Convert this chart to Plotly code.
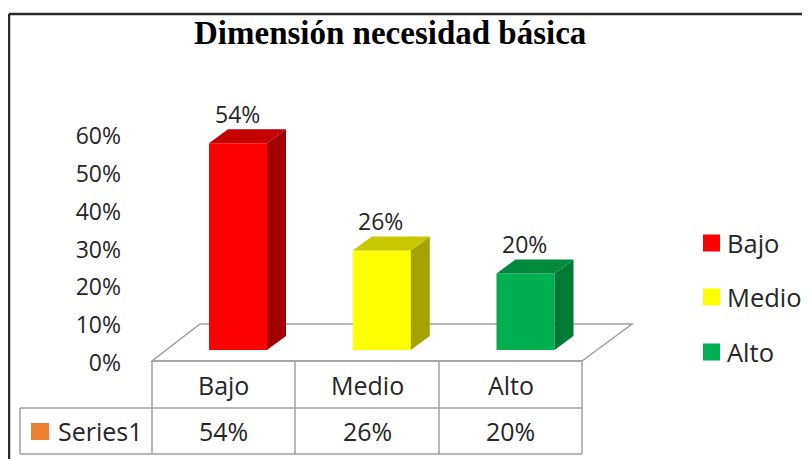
import plotly.graph_objects as go

# ---------------- data ----------------
categories = ["Bajo", "Medio", "Alto"]
values = [54, 26, 20]
y_ticks = [0, 10, 20, 30, 40, 50, 60]
series_name = "Series1"
title_text = "Dimensión necesidad básica"

front_colors = ["#FF0000", "#FFFF00", "#00B050"]
side_colors = ["#A00000", "#A3A300", "#007A36"]
top_colors = ["#C40000", "#C8C800", "#008A3E"]
series_key_color = "#ED7D31"

# ---------------- geometry helpers ----------------
W, H = 810, 459
OFF = 8            # page body margin offset (window px -> figure px)
FONT = "Open Sans"
TXT = "#262626"
GRID = "#A0A0A0"


def px(x):
    return (x - OFF) / W


def py(y):
    return 1 - (y - OFF) / H


# main axis mapping (bars): window pixel of category 0 centre / of 0 %
X0, DX = 238.0 - OFF, 143.75
Y0, KY = 350.0 - OFF, 3.83
# tick-label axis mapping
T0, KT = 363.0 - OFF, 3.78

bar_w = 58 / DX
dep_x = 19 / DX
dep_y = 14 / KY

xs = list(range(len(categories)))

fig = go.Figure()

fig.add_trace(go.Bar(
    x=xs, y=values, width=bar_w,
    marker=dict(color=front_colors, line=dict(width=0)),
    showlegend=False, hoverinfo="skip",
))
fig.add_trace(go.Scatter(
    x=[0], y=[0], yaxis="y2", mode="markers",
    marker=dict(opacity=0), showlegend=False, hoverinfo="skip",
))

shapes = []
annotations = []

# floor
shapes.append(dict(
    type="path", xref="paper", yref="paper", layer="below",
    path=f"M {px(152)},{py(361)} L {px(582)},{py(361)} L {px(632)},{py(324)} "
         f"L {px(200)},{py(324)} Z",
    line=dict(color=GRID, width=1.5), fillcolor="white",
))

# 3D faces of bars derived from data
for i, v in enumerate(values):
    xl = i - bar_w / 2
    xr = i + bar_w / 2
    shapes.append(dict(
        type="path", xref="x", yref="y", layer="above",
        path=f"M {xr},{0} L {xr + dep_x},{dep_y} L {xr + dep_x},{v + dep_y} L {xr},{v} Z",
        line=dict(width=0), fillcolor=side_colors[i],
    ))
    shapes.append(dict(
        type="path", xref="x", yref="y", layer="above",
        path=f"M {xl},{v} L {xr},{v} L {xr + dep_x},{v + dep_y} L {xl + dep_x},{v + dep_y} Z",
        line=dict(width=0), fillcolor=top_colors[i],
    ))
    annotations.append(dict(
        x=i, y=v + dep_y, xref="x", yref="y", text=f"{v}%",
        showarrow=False, yanchor="middle", yshift=15, xshift=-1,
        font=dict(family=FONT, size=23, color=TXT),
    ))

# data table lines
col_edges = [152, 295, 439, 582]
tbl_top, tbl_mid, tbl_bot, tbl_left = 361, 408, 454, 20


def line(x1, y1, x2, y2, color=GRID, width=1.5):
    shapes.append(dict(type="line", xref="paper", yref="paper",
                       x0=px(x1), y0=py(y1), x1=px(x2), y1=py(y2),
                       line=dict(color=color, width=width), layer="above"))


line(col_edges[0], tbl_top, col_edges[-1], tbl_top)
for xe in col_edges:
    line(xe, tbl_top, xe, tbl_bot)
line(tbl_left, tbl_mid, col_edges[-1], tbl_mid)
line(tbl_left, tbl_bot, col_edges[-1], tbl_bot)
line(tbl_left, tbl_mid, tbl_left, tbl_bot)

for i, (c, v) in enumerate(zip(categories, values)):
    cx = px((col_edges[i] + col_edges[i + 1]) / 2)
    annotations.append(dict(x=cx, y=py((tbl_top + tbl_mid) / 2), xref="paper", yref="paper",
                            text=c, showarrow=False, xanchor="center", yanchor="middle",
                            font=dict(family=FONT, size=25, color=TXT)))
    annotations.append(dict(x=cx, y=py((tbl_mid + tbl_bot) / 2), xref="paper", yref="paper",
                            text=f"{v}%", showarrow=False, xanchor="center", yanchor="middle",
                            font=dict(family=FONT, size=25, color=TXT)))

# series key in table
shapes.append(dict(type="rect", xref="paper", yref="paper",
                   x0=px(31), x1=px(49), y0=py(440), y1=py(423),
                   fillcolor=series_key_color, line=dict(width=0), layer="above"))
annotations.append(dict(x=px(56), y=py(431), xref="paper", yref="paper", text=series_name,
                        showarrow=False, xanchor="left", yanchor="middle",
                        font=dict(family=FONT, size=25, color=TXT)))

# manual legend
leg_y = [243, 297, 352]
for i, c in enumerate(categories):
    shapes.append(dict(type="rect", xref="paper", yref="paper",
                       x0=px(703), x1=px(720), y0=py(leg_y[i] + 8.5), y1=py(leg_y[i] - 8.5),
                       fillcolor=front_colors[i], line=dict(width=0), layer="above"))
    annotations.append(dict(x=px(726), y=py(leg_y[i]), xref="paper", yref="paper", text=c,
                            showarrow=False, xanchor="left", yanchor="middle", borderpad=0,
                            font=dict(family=FONT, size=25.5, color=TXT)))

# title
annotations.append(dict(x=px(390), y=py(33), xref="paper", yref="paper",
                        text=f"<b>{title_text}</b>", showarrow=False,
                        xanchor="center", yanchor="middle",
                        font=dict(family="Liberation Serif", size=33, color="#000000")))

# outer chart border
line(9, 14, W + 20, 14, color="#2b2b2b", width=2.5)
line(9, 14, 9, H + 20, color="#2b2b2b", width=2.5)

fig.update_layout(
    width=W, height=H,
    margin=dict(l=0, r=0, t=0, b=0),
    paper_bgcolor="white", plot_bgcolor="rgba(0,0,0,0)",
    showlegend=False,
    xaxis=dict(domain=[0, 1], range=[-X0 / DX, (W - X0) / DX],
               visible=False, fixedrange=True),
    yaxis=dict(domain=[0, 1], range=[-(H - Y0) / KY, Y0 / KY],
               visible=False, fixedrange=True),
    yaxis2=dict(overlaying="y", anchor="free", position=px(121), side="left",
                range=[-(H - T0) / KT, T0 / KT],
                tickvals=y_ticks, ticktext=[f"{t}%" for t in y_ticks],
                showgrid=False, zeroline=False, showline=False, ticks="",
                tickfont=dict(family=FONT, size=23, color=TXT), fixedrange=True),
    shapes=shapes,
    annotations=annotations,
)

fig.write_html("out.html")
